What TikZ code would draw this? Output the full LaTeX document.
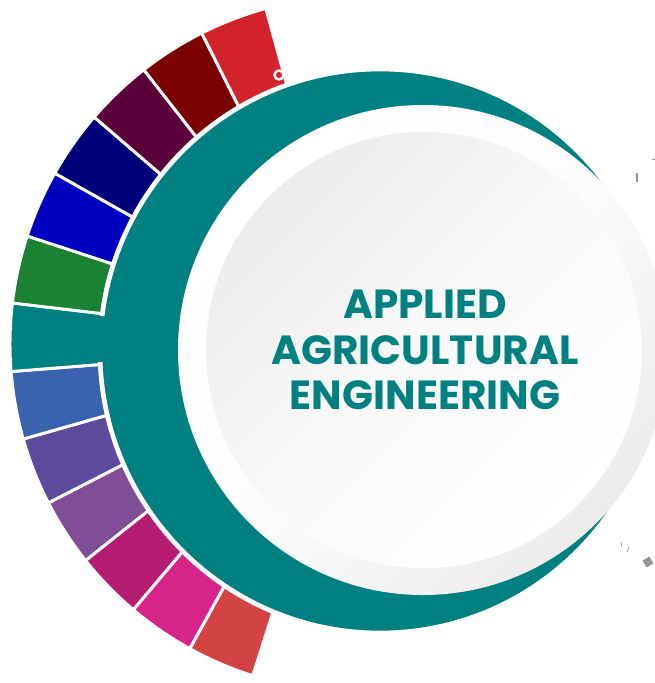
\documentclass[tikz,border=0pt]{standalone}
\usepackage{fontspec}
\setmainfont{Poppins}
\definecolor{ringteal}{RGB}{0, 128, 128}
\definecolor{segred}{RGB}{210, 68, 68}
\definecolor{segpink}{RGB}{214, 36, 138}
\definecolor{segmagenta}{RGB}{181, 28, 114}
\definecolor{segviolet}{RGB}{127, 78, 150}
\definecolor{segpurple}{RGB}{94, 74, 156}
\definecolor{segsteel}{RGB}{58, 99, 174}
\definecolor{seggreen}{RGB}{26, 130, 50}
\definecolor{segblue}{RGB}{0, 0, 192}
\definecolor{segnavy}{RGB}{0, 0, 123}
\definecolor{segplum}{RGB}{92, 0, 60}
\definecolor{segmaroon}{RGB}{123, 0, 0}
\definecolor{segscarlet}{RGB}{210, 35, 42}
\definecolor{rimgray}{RGB}{236, 236, 236}
\definecolor{discgray}{RGB}{236, 236, 236}
\definecolor{markgray}{RGB}{150, 150, 150}
\usetikzlibrary{calc}

\begin{document}
\begin{tikzpicture}[x=0.75pt, y=-0.75pt,
  segment/.style={draw=white, line width=2.2pt}]
  \useasboundingbox (0,0) rectangle (655,683);

  % colour segments round the left side
  \begin{scope}[shift={(358,344)}]
    \foreach \col [count=\i from 0] in {segred, segpink, segmagenta, segviolet, segpurple, segsteel, ringteal, seggreen, segblue, segnavy, segplum, segmaroon, segscarlet} {
      \pgfmathsetmacro{\sa}{107.6+11.31*\i}
      \pgfmathsetmacro{\sb}{\sa+11.31}
      \path[segment, fill=\col] (\sa:258) arc[start angle=\sa, end angle=\sb, radius=258]
        -- (\sb:348) arc[start angle=\sb, end angle=\sa, radius=348] -- cycle;
    }
  \end{scope}

  % small white mark on the top segment
  \draw[white, line width=1.8pt] (279,75) circle[radius=4.5];

  % teal ring
  \fill[ringteal, draw=white, line width=3.5pt] (380,351) ellipse[x radius=280, y radius=282];
  % join of the teal tab with the ring
  \begin{scope}[shift={(358,344)}]
    \fill[ringteal] (176.0:235) arc[start angle=176.0, end angle=186.2, radius=235]
      -- (186.2:264) arc[start angle=186.2, end angle=176.0, radius=264] -- cycle;
  \end{scope}

  % centre discs
  \shade[top color=white, bottom color=rimgray, middle color=white!85!rimgray, shading angle=45] (423,350) circle[radius=245];
  \shade[top color=discgray, bottom color=white, middle color=white!70!discgray, shading angle=45] (424,350) circle[radius=218];

  \node[font=\bfseries\fontsize{30.5}{34}\selectfont, text=ringteal, align=center] (title) at (425,350) {APPLIED\\AGRICULTURAL\\ENGINEERING};

  % grey marks on the right
  \draw[markgray, line width=1.4pt] (637,173) -- (637,182);
  \draw[markgray, line width=0.6pt] (652,159) -- (655,159);
  \draw[markgray, line width=0.6pt] (621,542) -- (622,547);
  \draw[markgray, line width=0.6pt] (629,547) -- (627,552);
  \fill[markgray, rotate around={30:(648,562)}] (644,558) rectangle (652,566);
\end{tikzpicture}
\end{document}
